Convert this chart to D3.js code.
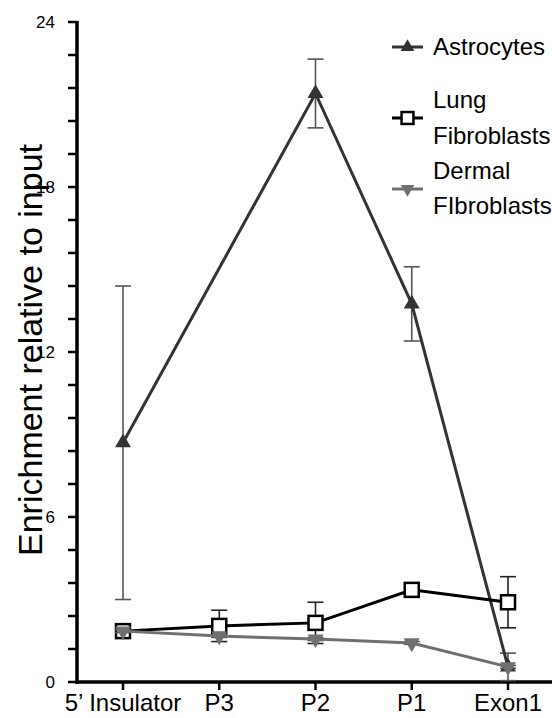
<!DOCTYPE html>
<meta charset="utf-8">
<script src="https://d3js.org/d3.v7.min.js"></script>
<body>
<script>

// data
var categories = ["5\u2019 Insulator", "P3", "P2", "P1", "Exon1"];
var astroMean = [8.7, null, 21.4, 13.75, 0.55];
var astroErr  = [5.7, null, 1.25, 1.35, 0.5];
var lungMean  = [1.85, 2.04, 2.15, 3.35, 2.9];
var lungErr   = [0.05, 0.57, 0.75, 0.1, 0.93];
var dermMean  = [1.85, 1.67, 1.56, 1.42, 0.55];
var dermErr   = [0.05, 0.05, 0.05, 0.05, 0.05];
var yTicks = [0, 6, 12, 18, 24];

var W = 552, H = 718;
var axisX = 77;
var font = "'Liberation Sans', Arial, Helvetica, sans-serif";

var svg = d3.select("body").append("svg")
  .attr("width", W)
  .attr("height", H)
  .attr("font-family", font)
  .style("position", "absolute")
  .style("left", "0px")
  .style("top", "0px");

var x = d3.scalePoint()
  .domain(categories)
  .range([123, 508]);

var y = d3.scaleLinear()
  .domain([0, 24])
  .range([682, 22]);

// axes from the scales
var minor = d3.range(0, 24.01, 1.2);
svg.selectAll(".ytick").data(minor).enter().append("rect")
  .attr("x", axisX - 9).attr("width", 9)
  .attr("y", function(d) { return y(d) - 1.25; })
  .attr("height", 2.5)
  .attr("fill", "#000");

svg.selectAll(".xtick").data(categories).enter().append("rect")
  .attr("x", function(d) { return x(d) - 1.25; })
  .attr("width", 2.5)
  .attr("y", y(0)).attr("height", 8)
  .attr("fill", "#000");

svg.append("rect")
  .attr("x", axisX - 1.75).attr("width", 3.5)
  .attr("y", y(24) - 1).attr("height", y(0) - y(24) + 2.75)
  .attr("fill", "#000");

svg.append("rect")
  .attr("x", axisX - 1.75).attr("width", W - axisX + 1.75)
  .attr("y", y(0) - 1.75).attr("height", 3.5)
  .attr("fill", "#000");

svg.selectAll(".ylab").data(yTicks).enter().append("text")
  .attr("x", axisX - 22)
  .attr("y", function(d) { return y(d); })
  .attr("dy", "0.35em")
  .attr("text-anchor", "end")
  .attr("font-size", 17)
  .text(function(d) { return d; });

svg.selectAll(".xlab").data(categories).enter().append("text")
  .attr("x", function(d) { return x(d); })
  .attr("y", y(0) + 29)
  .attr("text-anchor", "middle")
  .attr("font-size", 24)
  .text(function(d) { return d; });

svg.append("text")
  .attr("transform", "translate(30,350) rotate(-90)")
  .attr("text-anchor", "middle")
  .attr("dy", "0.35em")
  .attr("font-size", 34)
  .text("Enrichment relative to input");

var series = [
  {name: ["Astrocytes"], mean: astroMean, err: astroErr, color: "#333", errColor: "#555", marker: "tri", ly: 47, ty: [47]},
  {name: ["Lung", "Fibroblasts"], mean: lungMean, err: lungErr, color: "#000", errColor: "#222", marker: "sq", ly: 118, ty: [100, 136]},
  {name: ["Dermal", "FIbroblasts"], mean: dermMean, err: dermErr, color: "#707070", errColor: "#555", marker: "inv", ly: 189, ty: [171, 206]}
];

var tri = d3.symbol().type(d3.symbolTriangle).size(110);

function drawMarker(g, s, cx, cy, scale) {
  if (s.marker == "sq") {
    var h = 7 * scale;
    g.append("rect")
      .attr("x", cx - h).attr("y", cy - h)
      .attr("width", 2 * h).attr("height", 2 * h)
      .attr("fill", "#fff")
      .attr("stroke", s.color)
      .attr("stroke-width", 2.5);
  } else {
    g.append("path")
      .attr("d", tri)
      .attr("fill", s.color)
      .attr("transform", "translate(" + cx + "," + cy + ") scale(" + scale + ")" + (s.marker == "inv" ? " rotate(180)" : ""));
  }
}

series.forEach(function(s) {
  var pts = categories.map(function(c, i) {
    return {cat: c, v: s.mean[i], e: s.err[i]};
  }).filter(function(d) { return d.v != null; });

  var g = svg.append("g");

  // error bars
  var eb = g.selectAll(".eb").data(pts).enter().append("g")
    .attr("stroke", s.errColor)
    .attr("stroke-width", 1.6);
  eb.append("line")
    .attr("x1", function(d) { return x(d.cat); })
    .attr("x2", function(d) { return x(d.cat); })
    .attr("y1", function(d) { return y(d.v + d.e); })
    .attr("y2", function(d) { return y(d.v - d.e); });
  [1, -1].forEach(function(sgn) {
    eb.append("line")
      .attr("x1", function(d) { return x(d.cat) - 8; })
      .attr("x2", function(d) { return x(d.cat) + 8; })
      .attr("y1", function(d) { return y(d.v + sgn * d.e); })
      .attr("y2", function(d) { return y(d.v + sgn * d.e); });
  });

  g.append("path")
    .attr("d", d3.line().x(function(d) { return x(d.cat); }).y(function(d) { return y(d.v); })(pts))
    .attr("fill", "none")
    .attr("stroke", s.color)
    .attr("stroke-width", 3);

  pts.forEach(function(d) { drawMarker(g, s, x(d.cat), y(d.v), 1); });

  // legend
  var lg = svg.append("g");
  lg.append("line")
    .attr("x1", 392).attr("x2", 423)
    .attr("y1", s.ly).attr("y2", s.ly)
    .attr("stroke", s.color).attr("stroke-width", 3);
  drawMarker(lg, s, 407.5, s.ly, 0.85);
  s.name.forEach(function(t, i) {
    lg.append("text")
      .attr("x", 433)
      .attr("y", s.ty[i])
      .attr("dy", "0.35em")
      .attr("font-size", 24)
      .text(t);
  });
});

</script>
</body>
